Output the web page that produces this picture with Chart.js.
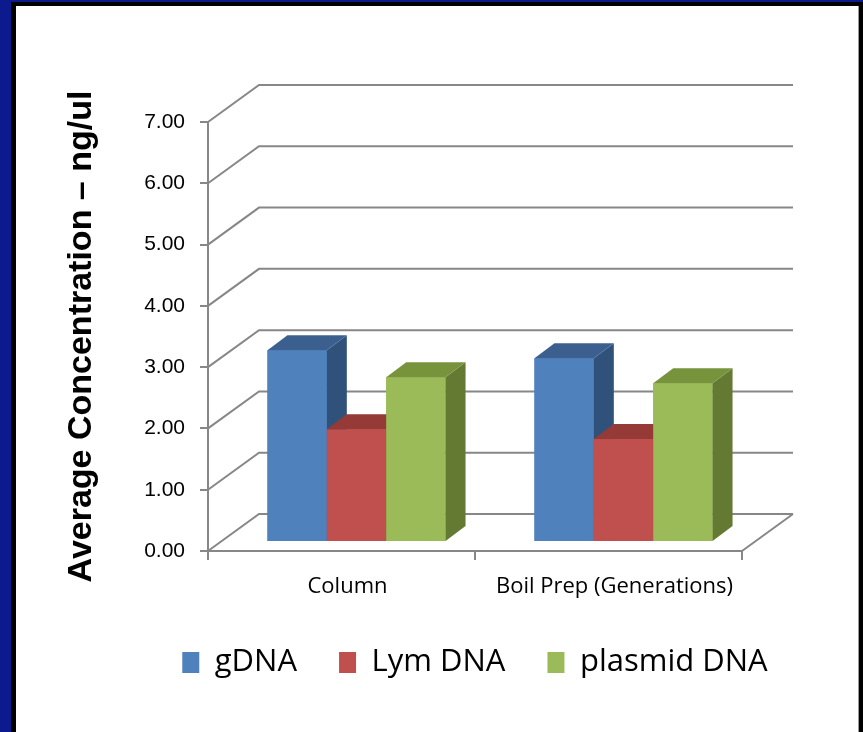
<!DOCTYPE html>
<html>
<head>
<meta charset="utf-8">
<script src="https://cdn.jsdelivr.net/npm/chart.js@4.4.1/dist/chart.umd.min.js"></script>
<style>
html,body{margin:0;padding:0;width:863px;height:732px;overflow:hidden;background:#0b1a8c;}
#black{position:absolute;left:11px;top:2px;width:852px;height:730px;background:#000;}
#panel{position:absolute;left:16px;top:6px;width:842px;height:726px;background:#fff;border-right:1px solid #9a9a9a;}
canvas{display:block;}
</style>
</head>
<body>
<div id="black"></div>
<div id="panel"><canvas id="c" width="842" height="726"></canvas></div>
<script>
// ---- data ----
const categories = ['Column', 'Boil Prep (Generations)'];
const seriesNames = ['gDNA', 'Lym DNA', 'plasmid DNA'];
const gDNA = [3.13, 3.00];
const lymDNA = [1.84, 1.68];
const plasmidDNA = [2.69, 2.59];
const yTicks = [0, 1, 2, 3, 4, 5, 6, 7];

// ---- styling ----
const frontColors = ['#4f81bd', '#c0504d', '#9bbb59'];
const topColors = ['#3b6090', '#953a37', '#77933c'];
const sideColors = ['#30527a', '#7d2f2d', '#647a33'];
const GRID = '#878787';
const WALL = {x: 51, y: -37};
const BAR_SHIFT = {x: 15, y: -9};
const BAR_DEPTH = {x: 20, y: -15};
const LEGEND_SHIFT = 96;

const threeD = {
  id: 'threeD',
  beforeDatasetsDraw(chart) {
    const {ctx, chartArea: ca, scales: {y}} = chart;
    ctx.save();
    ctx.strokeStyle = GRID;
    ctx.lineWidth = 2;
    ctx.beginPath();
    yTicks.forEach(v => {
      const py = y.getPixelForValue(v);
      ctx.moveTo(ca.left, py);
      ctx.lineTo(ca.left + WALL.x, py + WALL.y);
      ctx.lineTo(ca.right + WALL.x, py + WALL.y);
    });
    const p0 = y.getPixelForValue(0);
    ctx.moveTo(ca.right, p0);
    ctx.lineTo(ca.right + WALL.x, p0 + WALL.y);
    ctx.stroke();
    ctx.restore();
    ctx.save();
    ctx.translate(BAR_SHIFT.x, BAR_SHIFT.y);
  },
  afterDatasetsDraw(chart) {
    const ctx = chart.ctx;
    // redraw every bar as a 3D block, in series order, so the overlaps are right
    chart.data.datasets.forEach((ds, i) => {
      const meta = chart.getDatasetMeta(i);
      meta.data.forEach(bar => {
        const {x, y, base, width} = bar.getProps(['x', 'y', 'base', 'width'], true);
        const l = x - width / 2, r = x + width / 2;
        ctx.fillStyle = frontColors[i];
        ctx.fillRect(l, y, width, base - y);
        ctx.fillStyle = sideColors[i];
        ctx.beginPath();
        ctx.moveTo(r, y);
        ctx.lineTo(r + BAR_DEPTH.x, y + BAR_DEPTH.y);
        ctx.lineTo(r + BAR_DEPTH.x, base + BAR_DEPTH.y);
        ctx.lineTo(r, base);
        ctx.closePath();
        ctx.fill();
        ctx.fillStyle = topColors[i];
        ctx.beginPath();
        ctx.moveTo(l, y);
        ctx.lineTo(l + BAR_DEPTH.x, y + BAR_DEPTH.y);
        ctx.lineTo(r + BAR_DEPTH.x, y + BAR_DEPTH.y);
        ctx.lineTo(r, y);
        ctx.closePath();
        ctx.fill();
      });
    });
    ctx.restore();
  },
  afterLayout(chart) {
    if (chart.legend) {
      chart.legend.left += LEGEND_SHIFT;
      chart.legend.right += LEGEND_SHIFT;
    }
  }
};

const seriesData = [gDNA, lymDNA, plasmidDNA];
const datasets = seriesNames.map((name, i) => ({
  label: name,
  data: seriesData[i],
  backgroundColor: frontColors[i],
  borderWidth: 0,
  barPercentage: 1,
  categoryPercentage: 0.667
}));

new Chart(document.getElementById('c'), {
  type: 'bar',
  data: {labels: categories, datasets},
  options: {
    responsive: false,
    animation: false,
    layout: {padding: {left: 0, right: 116, top: 116, bottom: 44}},
    plugins: {
      tooltip: {enabled: false},
      legend: {
        position: 'bottom',
        labels: {
          boxWidth: 17,
          boxHeight: 21,
          padding: 42,
          color: '#000',
          font: {family: 'Open Sans', size: 31}
        }
      }
    },
    scales: {
      x: {
        ticks: {color: '#000', font: {family: 'Open Sans', size: 22}, padding: 14, labelOffset: 6, maxRotation: 0, autoSkip: false},
        grid: {drawOnChartArea: false, drawTicks: true, tickLength: 9, color: GRID, lineWidth: 2, offset: true},
        border: {display: true, color: GRID, width: 2},
        afterFit(s) { s.height = 54; }
      },
      y: {
        min: 0,
        max: 7,
        afterBuildTicks(s) { s.ticks = yTicks.map(v => ({value: v})); },
        ticks: {color: '#000', font: {family: 'Liberation Sans', size: 21}, padding: 15, callback: v => Number(v).toFixed(2)},
        grid: {drawOnChartArea: false, drawTicks: true, tickLength: 8, color: GRID, lineWidth: 2},
        border: {display: true, color: GRID, width: 2},
        title: {
          display: true,
          text: 'Average Concentration – ng/ul',
          color: '#000',
          font: {family: 'Liberation Sans', size: 34, weight: 'bold'},
          padding: {top: 45, bottom: 0}
        },
        afterFit(s) { s.width = 192; }
      }
    }
  },
  plugins: [threeD]
});
</script>
</body>
</html>
